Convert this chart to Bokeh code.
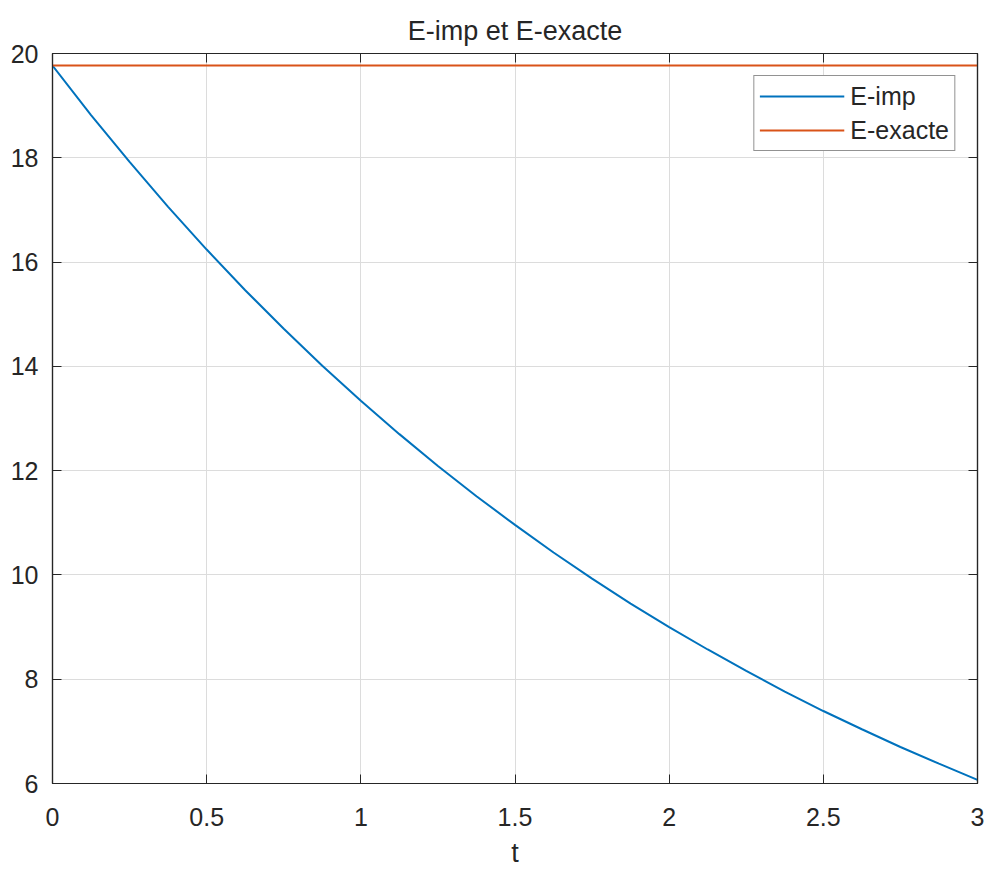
from bokeh.plotting import figure
from bokeh.models import LinearAxis, Range1d, Legend, LegendItem, FixedTicker
from bokeh.embed import file_html
from bokeh.resources import INLINE

# Data
t = [0.0, 0.125, 0.25, 0.375, 0.5, 0.625, 0.75, 0.875, 1.0, 1.125, 1.25, 1.375,
     1.5, 1.625, 1.75, 1.875, 2.0, 2.125, 2.25, 2.375, 2.5, 2.625, 2.75, 2.875, 3.0]
e_imp = [19.77, 18.82, 17.92, 17.06, 16.24, 15.46, 14.72, 14.01, 13.34, 12.70, 12.09, 11.51,
         10.96, 10.43, 9.93, 9.45, 9.00, 8.57, 8.16, 7.76, 7.39, 7.04, 6.70, 6.38, 6.07]
e_exacte = [19.77] * len(t)
x_ticks = [0, 0.5, 1, 1.5, 2, 2.5, 3]
y_ticks = [6, 8, 10, 12, 14, 16, 18, 20]

FONT = "Liberation Sans"
DARK = "#262626"

p = figure(width=987, height=870, output_backend="svg", toolbar_location=None,
           x_range=Range1d(0, 3), y_range=Range1d(6, 20),
           min_border_left=52, min_border_right=10, min_border_top=53, min_border_bottom=87,
           title="E-imp et E-exacte")
p.title.align = "center"
p.title.vertical_align = "top"
p.title.text_font = FONT
p.title.text_font_size = "27px"
p.title.text_font_style = "normal"
p.title.text_color = DARK
p.title.standoff = 12

p.background_fill_color = "white"
p.border_fill_color = "white"
p.outline_line_color = DARK
p.outline_line_width = 1.2

def style_axis(ax, show_labels, ticks):
    ax.axis_line_color = DARK
    ax.axis_line_width = 1.2
    ax.major_tick_in = 9
    ax.major_tick_out = 0
    ax.major_tick_line_color = DARK
    ax.minor_tick_line_color = None
    ax.major_label_text_font = FONT
    ax.major_label_text_color = DARK
    if show_labels:
        ax.major_label_text_font_size = "25px"
    else:
        ax.major_label_text_font_size = "1px"
        ax.major_label_overrides = {tk: "" for tk in ticks}
        ax.major_label_standoff = 0

p.xaxis.ticker = FixedTicker(ticks=x_ticks)
p.yaxis.ticker = FixedTicker(ticks=y_ticks)
style_axis(p.xaxis[0], True, x_ticks)
style_axis(p.yaxis[0], True, y_ticks)
p.xaxis.major_label_standoff = 24
p.yaxis.major_label_standoff = 14
p.xaxis.axis_label = "t"
p.xaxis.axis_label_text_font = FONT
p.xaxis.axis_label_text_font_size = "27px"
p.xaxis.axis_label_text_font_style = "normal"
p.xaxis.axis_label_text_color = DARK
p.xaxis.axis_label_standoff = 9

top = LinearAxis(ticker=FixedTicker(ticks=x_ticks))
right = LinearAxis(ticker=FixedTicker(ticks=y_ticks))
style_axis(top, False, x_ticks)
style_axis(right, False, y_ticks)
p.add_layout(top, "above")
p.add_layout(right, "right")

p.xgrid.ticker = FixedTicker(ticks=x_ticks)
p.ygrid.ticker = FixedTicker(ticks=y_ticks)
p.grid.grid_line_color = "#dcdcdc"
p.grid.grid_line_width = 1

r1 = p.line(t, e_imp, line_color="#0072BD", line_width=2)
r2 = p.line(t, e_exacte, line_color="#D95319", line_width=2)

legend = Legend(items=[LegendItem(label="E-imp", renderers=[r1]),
                       LegendItem(label="E-exacte", renderers=[r2])],
                location="top_right")
legend.margin = 22
legend.padding = 5
legend.spacing = 4
legend.glyph_width = 85
legend.glyph_height = 30
legend.label_height = 30
legend.label_standoff = 6
legend.label_text_font = FONT
legend.label_text_font_size = "25px"
legend.label_text_color = DARK
legend.border_line_color = DARK
legend.border_line_width = 1.2
legend.background_fill_color = "white"
legend.background_fill_alpha = 1
p.add_layout(legend, "center")

open("out.html", "w").write(file_html(p, INLINE))
